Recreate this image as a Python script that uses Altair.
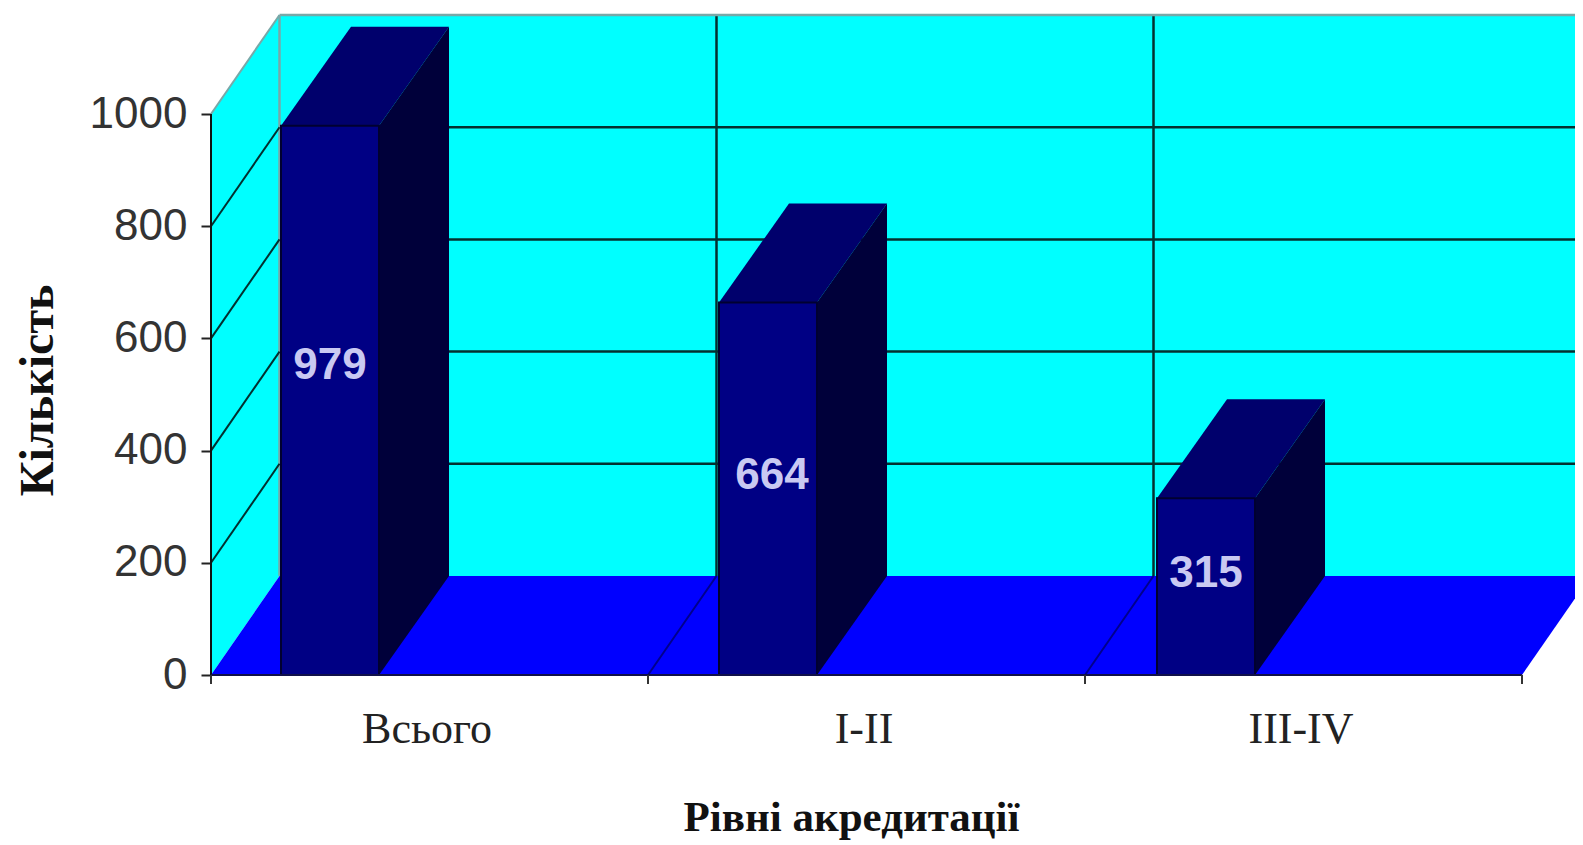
import altair as alt
import pandas as pd

categories = ["Всього", "I-II", "III-IV"]
values = [979, 664, 315]
y_ticks = [0, 200, 400, 600, 800, 1000]
value_label_height = [550, 354, 180]

W, H = 1364, 667
UNIT = 437.0
PER = 0.561
DX = 68.5 / UNIT
DY = 99.0 / PER
BAR_DX = 70.0 / UNIT
BAR_OFF = [70.0 / UNIT, 71.0 / UNIT, 72.0 / UNIT]
BAR_W = 98.0 / UNIT
LABEL_NUDGE = [0.0, 4.0 / UNIT, 0.0]
CAT_NUDGE = 3.0 / UNIT

xs = alt.Scale(domain=[0, W / UNIT], nice=False, zero=False)
ys = alt.Scale(domain=[0, H / PER], nice=False, zero=False)


def X(f="x", **k):
    return alt.X(f"{f}:Q", scale=xs, axis=None, **k)


def Y(f="y", **k):
    return alt.Y(f"{f}:Q", scale=ys, axis=None, **k)


layers = []

# left wall
wall = pd.DataFrame({"x": [0, DX], "y": [0, DY], "y2": [1000, 1000 + DY]})
layers.append(alt.Chart(wall).mark_area(color="#00ffff").encode(X(), Y(), y2="y2:Q"))

# back wall
back = pd.DataFrame({"x": [DX], "x2": [3 + DX], "y": [DY], "y2": [1000 + DY]})
layers.append(alt.Chart(back).mark_rect(color="#00ffff").encode(X(), alt.X2("x2:Q"), Y(), alt.Y2("y2:Q")))

# floor
floor = pd.DataFrame({"y": [0, DY], "x": [0, DX], "x2": [3, 3 + DX]})
layers.append(alt.Chart(floor).mark_area(color="#0000ff", orient="horizontal").encode(Y(), X(), x2="x2:Q"))

GRID = "#04302f"
PALE = "#78a8a8"
# back grid lines
hg = pd.DataFrame({"y": [DY + v for v in y_ticks[1:-1]], "x": DX, "x2": 3 + DX})
layers.append(alt.Chart(hg).mark_rule(color=GRID, strokeWidth=2.5).encode(X(), alt.X2("x2:Q"), Y()))
vg = pd.DataFrame({"x": [DX + k for k in [1, 2]], "y": DY, "y2": 1000 + DY})
layers.append(alt.Chart(vg).mark_rule(color=GRID, strokeWidth=2.5).encode(X(), Y(), alt.Y2("y2:Q")))

# pale outer edges of the back wall
layers.append(
    alt.Chart(pd.DataFrame({"y": [1000 + DY], "x": [DX], "x2": [3 + DX]}))
    .mark_rule(color=PALE, strokeWidth=2.5)
    .encode(X(), alt.X2("x2:Q"), Y())
)
layers.append(
    alt.Chart(pd.DataFrame({"x": [DX], "y": [DY], "y2": [1000 + DY]}))
    .mark_rule(color=PALE, strokeWidth=2.5)
    .encode(X(), Y(), alt.Y2("y2:Q"))
)
layers.append(
    alt.Chart(pd.DataFrame({"x": [0, DX], "y": [1000, 1000 + DY]}))
    .mark_line(color=PALE, strokeWidth=2)
    .encode(X(), Y())
)

# wall diagonals
rows = []
for v in y_ticks[1:-1]:
    rows += [{"k": v, "x": 0, "y": v}, {"k": v, "x": DX, "y": v + DY}]
layers.append(alt.Chart(pd.DataFrame(rows)).mark_line(color="#02302f", strokeWidth=2).encode(X(), Y(), detail="k:N"))

# floor diagonals
rows = []
for k in [1, 2]:
    rows += [{"k": k, "x": k, "y": 0}, {"k": k, "x": k + DX, "y": DY}]
layers.append(alt.Chart(pd.DataFrame(rows)).mark_line(color="#00008c", strokeWidth=2).encode(X(), Y(), detail="k:N"))

# bars
for i, v in enumerate(values):
    left = i + BAR_OFF[i]
    right = left + BAR_W
    top = pd.DataFrame({"y": [v, v + DY], "x": [left, left + BAR_DX], "x2": [right, right + BAR_DX]})
    layers.append(alt.Chart(top).mark_area(color="#00006c", orient="horizontal").encode(Y(), X(), x2="x2:Q"))
    side = pd.DataFrame({"x": [right, right + BAR_DX], "y": [0, DY], "y2": [v, v + DY]})
    layers.append(alt.Chart(side).mark_area(color="#00003a").encode(X(), Y(), y2="y2:Q"))
    front = pd.DataFrame({"x": [left], "x2": [right], "y": [0], "y2": [v]})
    layers.append(
        alt.Chart(front)
        .mark_rect(color="#000084", stroke="#000030", strokeWidth=2)
        .encode(X(), alt.X2("x2:Q"), Y(), alt.Y2("y2:Q"))
    )

# value labels
lab = pd.DataFrame(
    {
        "x": [i + BAR_OFF[i] + BAR_W / 2 + LABEL_NUDGE[i] for i in range(3)],
        "y": value_label_height,
        "t": [str(v) for v in values],
    }
)
layers.append(
    alt.Chart(lab)
    .mark_text(color="#c9c9f2", font="Liberation Sans", fontWeight="bold", fontSize=44, baseline="middle")
    .encode(X(), Y(), text="t:N")
)

# axis lines
layers.append(
    alt.Chart(pd.DataFrame({"x": [0], "y": [0], "y2": [1000]}))
    .mark_rule(color="#111", strokeWidth=2)
    .encode(X(), Y(), alt.Y2("y2:Q"))
)
layers.append(
    alt.Chart(pd.DataFrame({"x": [0], "x2": [3], "y": [0]}))
    .mark_rule(color="#10104a", strokeWidth=2)
    .encode(X(), alt.X2("x2:Q"), Y())
)
ticks = pd.DataFrame({"x": [0, 1, 2, 3], "y": 0, "y2": -9 / PER})
layers.append(alt.Chart(ticks).mark_rule(color="#333", strokeWidth=2).encode(X(), Y(), alt.Y2("y2:Q")))

# axes
label_expr = "datum.value < 1 ? '%s' : datum.value < 2 ? '%s' : '%s'" % tuple(categories)
axes = (
    alt.Chart(pd.DataFrame({"x": [0.5], "y": [0]}))
    .mark_point(opacity=0)
    .encode(
        alt.X(
            "x:Q",
            scale=xs,
            axis=alt.Axis(
                values=[0.5 - CAT_NUDGE, 1.5 - CAT_NUDGE, 2.5 - CAT_NUDGE],
                labelExpr=label_expr,
                domain=False,
                ticks=False,
                grid=False,
                labelFont="Liberation Serif",
                labelFontSize=44,
                labelColor="#222222",
                labelPadding=32,
                labelFlush=False,
                labelOverlap=False,
                title="Рівні акредитації",
                titleFont="Liberation Serif",
                titleFontWeight="bold",
                titleFontSize=43,
                titleColor="#111111",
                titleX=640,
                titleY=155,
                titleBaseline="alphabetic",
            ),
        ),
        alt.Y(
            "y:Q",
            scale=ys,
            axis=alt.Axis(
                values=y_ticks,
                format="d",
                domain=False,
                grid=False,
                tickSize=10,
                tickWidth=2,
                tickColor="#222222",
                labelFont="Liberation Sans",
                labelFontSize=44,
                labelColor="#333333",
                labelPadding=14,
                labelFlush=False,
                labelOverlap=False,
                title="Кількість",
                titleFont="Liberation Serif",
                titleFontWeight="bold",
                titleFontSize=48,
                titleColor="#111111",
                titleAngle=-90,
                titleX=-159,
                titleY=382,
                titleBaseline="alphabetic",
            ),
        ),
    )
)

chart = (
    alt.layer(*layers, axes)
    .resolve_axis(x="independent", y="independent")
    .properties(
        width=W,
        height=H,
        autosize=alt.AutoSizeParams(type="none"),
        padding={"left": 203, "top": 0, "right": 0, "bottom": 166},
        background="white",
    )
    .configure_view(stroke=None)
)

chart.save("out.html", embed_options={"renderer": "svg", "actions": False})
